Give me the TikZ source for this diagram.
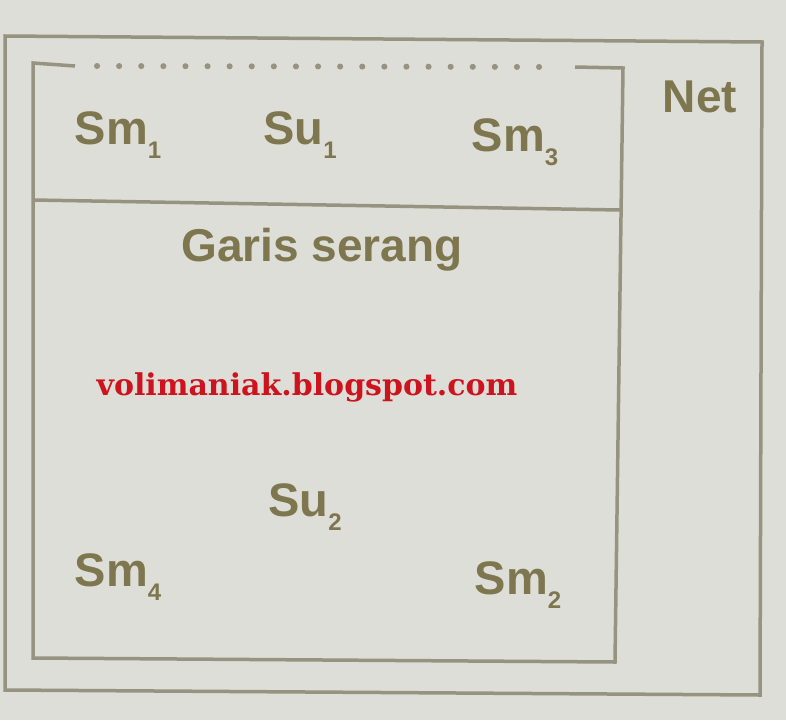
\documentclass[tikz,border=0pt]{standalone}
\usepackage{fontspec}
\setmainfont{Liberation Sans}
\newfontfamily\markfont{DejaVu Serif}
\usepackage{xcolor}
\definecolor{paper}{RGB}{222,222,216}
\definecolor{linegray}{RGB}{150,148,128}
\definecolor{inkolive}{RGB}{125,118,78}
\definecolor{markred}{RGB}{205,20,30}
\newcommand{\idx}[1]{\raisebox{-0.3em}{\fontsize{24}{26}\selectfont #1}}

\begin{document}
\begin{tikzpicture}[
    x=1pt, y=-1pt,
    court/.style={draw=linegray, line width=3.5pt},
    player/.style={text=inkolive, font=\fontsize{47}{50}\selectfont\bfseries, inner sep=0pt},
    lbl/.style={text=inkolive, font=\fontsize{46}{50}\selectfont\bfseries, inner sep=0pt},
    watermark/.style={text=markred, font=\markfont\fontsize{30}{34}\selectfont\bfseries, inner sep=0pt}
]
\useasboundingbox[fill=paper] (0,0) rectangle (786,720);

% Outer frame
\draw[court] (5,36) -- (762,42) -- (760,695) -- (5,690) -- cycle;

% Court
\draw[court] (75,66) -- (33,63) -- (33,658) -- (615,662) -- (623,68) -- (575,67);
\draw[court, line width=6pt, line cap=round, dash pattern=on 0.1pt off 22pt] (97,66) -- (555,67);
\draw[court] (33,200) -- (620,210);

% Players
\node[player] (sm1) at (118,135) {Sm\idx{1}};
\node[player] (su1) at (300,135) {Su\idx{1}};
\node[player] (sm3) at (515,142) {Sm\idx{3}};
\node[player] (su2) at (305,507) {Su\idx{2}};
\node[player] (sm4) at (118,577) {Sm\idx{4}};
\node[player] (sm2) at (518,585) {Sm\idx{2}};

% Labels
\node[lbl] (net) at (700,97) {Net};
\node[lbl] (attack) at (322,250) {Garis serang};
\node[watermark] (site) at (307,387) {volimaniak.blogspot.com};

\end{tikzpicture}
\end{document}
